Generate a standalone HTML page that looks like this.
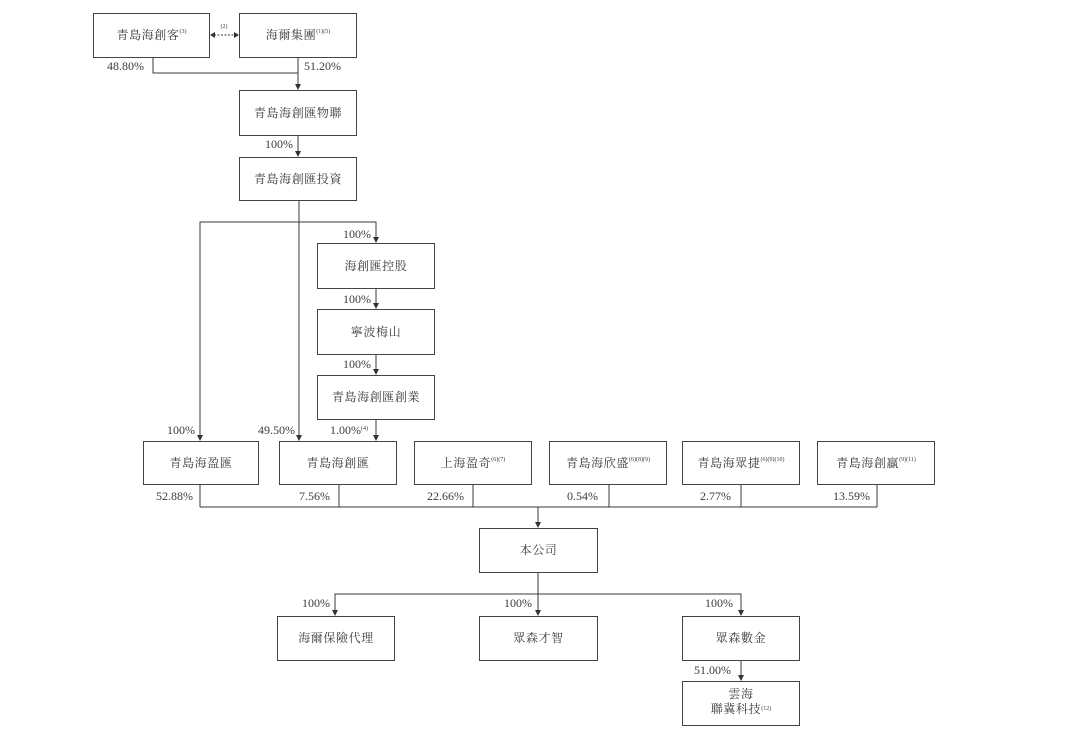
<!DOCTYPE html>
<html><head><meta charset="utf-8">
<style>
html,body{margin:0;padding:0;background:#fff;}
body{width:1080px;height:755px;position:relative;overflow:hidden;
font-family:"Liberation Serif","Noto Serif CJK SC","Noto Serif CJK TC",serif;color:#3c3c3c;}
.b{position:absolute;box-sizing:border-box;border:1px solid #444;background:#fff;
display:flex;align-items:center;justify-content:center;font-size:12px;letter-spacing:0.6px;
font-family:"Liberation Serif","Noto Serif CJK SC",serif;line-height:15px;text-align:center;}
.s{font-size:6px;letter-spacing:0;position:relative;top:-3px;}
svg{position:absolute;left:0;top:0;}
svg text{font-family:"Liberation Serif","Noto Serif CJK SC",serif;font-size:12px;fill:#3c3c3c;}
</style></head><body>
<svg width="1080" height="755" viewBox="0 0 1080 755">
<g stroke="#383838" stroke-width="1" fill="none">
<!-- dashed double arrow -->
<line x1="214" y1="35" x2="234" y2="35" stroke-dasharray="2,1.5"/>
<!-- top merge -->
<polyline points="153,57 153,73 298,73"/>
<line x1="298" y1="57" x2="298" y2="85"/>
<line x1="298" y1="135" x2="298" y2="152"/>
<!-- investment fanout -->
<line x1="299" y1="200" x2="299" y2="436"/>
<polyline points="200,436 200,222 376,222 376,238"/>
<line x1="376" y1="288" x2="376" y2="304"/>
<line x1="376" y1="354" x2="376" y2="370"/>
<line x1="376" y1="419" x2="376" y2="436"/>
<!-- row merge -->
<line x1="200" y1="484" x2="200" y2="507"/>
<line x1="339" y1="484" x2="339" y2="507"/>
<line x1="473" y1="484" x2="473" y2="507"/>
<line x1="609" y1="484" x2="609" y2="507"/>
<line x1="741" y1="484" x2="741" y2="507"/>
<line x1="877" y1="484" x2="877" y2="507"/>
<line x1="200" y1="507" x2="877" y2="507"/>
<line x1="538" y1="507" x2="538" y2="523"/>
<!-- subsidiaries -->
<line x1="538" y1="573" x2="538" y2="611"/>
<polyline points="335,611 335,594 741,594 741,611"/>
<line x1="741" y1="660" x2="741" y2="676"/>
</g>
<g fill="#333">
<polygon points="210,35 215,32 215,38"/>
<polygon points="239,35 234,32 234,38"/>
<polygon points="298,90 295,84 301,84"/>
<polygon points="298,157 295,151 301,151"/>
<polygon points="376,243 373,237 379,237"/>
<polygon points="376,309 373,303 379,303"/>
<polygon points="376,375 373,369 379,369"/>
<polygon points="200,441 197,435 203,435"/>
<polygon points="299,441 296,435 302,435"/>
<polygon points="376,441 373,435 379,435"/>
<polygon points="538,528 535,522 541,522"/>
<polygon points="335,616 332,610 338,610"/>
<polygon points="538,616 535,610 541,610"/>
<polygon points="741,616 738,610 744,610"/>
<polygon points="741,681 738,675 744,675"/>
</g>
<text x="220.5" y="28" style="font-size:6px">(2)</text>
<text x="107" y="70">48.80%</text>
<text x="304" y="70">51.20%</text>
<text x="265" y="148">100%</text>
<text x="343" y="238">100%</text>
<text x="343" y="303">100%</text>
<text x="343" y="368">100%</text>
<text x="167" y="434">100%</text>
<text x="258" y="434">49.50%</text>
<text x="330" y="434">1.00%<tspan style="font-size:6px" dy="-4">(4)</tspan></text>
<text x="156" y="500">52.88%</text>
<text x="299" y="500">7.56%</text>
<text x="427" y="500">22.66%</text>
<text x="567" y="500">0.54%</text>
<text x="700" y="500">2.77%</text>
<text x="833" y="500">13.59%</text>
<text x="302" y="607">100%</text>
<text x="504" y="607">100%</text>
<text x="705" y="607">100%</text>
<text x="694" y="674">51.00%</text>
</svg>

<div class="b" style="left:93px;top:13px;width:117px;height:45px;">青島海創客<span class="s">(3)</span></div>
<div class="b" style="left:239px;top:13px;width:118px;height:45px;">海爾集團<span class="s">(1)(5)</span></div>
<div class="b" style="left:239px;top:90px;width:118px;height:46px;">青島海創匯物聯</div>
<div class="b" style="left:239px;top:157px;width:118px;height:44px;">青島海創匯投資</div>
<div class="b" style="left:317px;top:243px;width:118px;height:46px;">海創匯控股</div>
<div class="b" style="left:317px;top:309px;width:118px;height:46px;">寧波梅山</div>
<div class="b" style="left:317px;top:375px;width:118px;height:45px;">青島海創匯創業</div>

<div class="b" style="left:143px;top:441px;width:116px;height:44px;">青島海盈匯</div>
<div class="b" style="left:279px;top:441px;width:118px;height:44px;">青島海創匯</div>
<div class="b" style="left:414px;top:441px;width:118px;height:44px;">上海盈奇<span class="s">(6)(7)</span></div>
<div class="b" style="left:549px;top:441px;width:118px;height:44px;">青島海欣盛<span class="s">(6)(8)(9)</span></div>
<div class="b" style="left:682px;top:441px;width:118px;height:44px;">青島海眾捷<span class="s">(6)(9)(10)</span></div>
<div class="b" style="left:817px;top:441px;width:118px;height:44px;">青島海創贏<span class="s">(9)(11)</span></div>

<div class="b" style="left:479px;top:528px;width:119px;height:45px;">本公司</div>
<div class="b" style="left:277px;top:616px;width:118px;height:45px;">海爾保險代理</div>
<div class="b" style="left:479px;top:616px;width:119px;height:45px;">眾森才智</div>
<div class="b" style="left:682px;top:616px;width:118px;height:45px;">眾森數金</div>
<div class="b" style="left:682px;top:681px;width:118px;height:45px;"><div>雲海<br>聯冀科技<span class="s">(12)</span></div></div>
</body></html>
